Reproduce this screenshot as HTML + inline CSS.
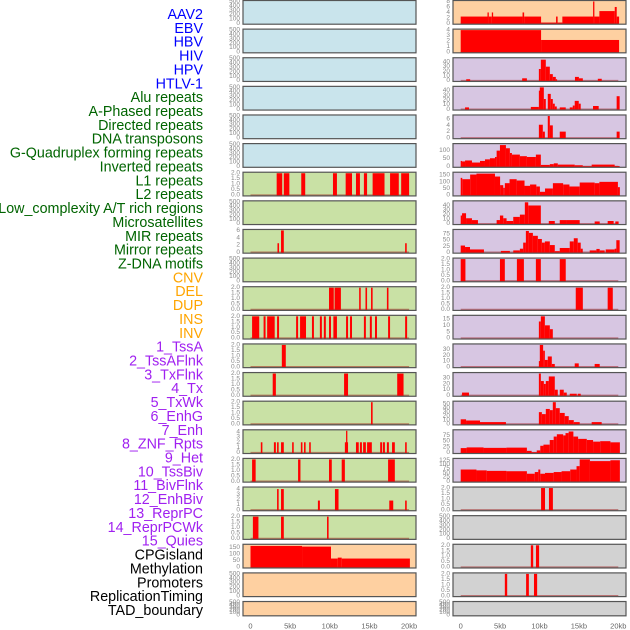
<!DOCTYPE html>
<html><head><meta charset="utf-8"><style>
html,body{margin:0;padding:0;background:#fff;width:630px;height:630px;overflow:hidden}
svg{display:block}
text{font-family:"Liberation Sans",sans-serif}
</style></head><body>
<svg id="chart" width="630" height="630" viewBox="0 0 630 630" xmlns="http://www.w3.org/2000/svg"></svg>
<script>
// ---- data (segments: [startKb, endKb, value]) ----
const trackLabels = ["AAV2","EBV","HBV","HIV","HPV","HTLV-1","Alu repeats","A-Phased repeats","Directed repeats","DNA transposons","G-Quadruplex forming repeats","Inverted repeats","L1 repeats","L2 repeats","Low_complexity A/T rich regions","Microsatellites","MIR repeats","Mirror repeats","Z-DNA motifs","CNV","DEL","DUP","INS","INV","1_TssA","2_TssAFlnk","3_TxFlnk","4_Tx","5_TxWk","6_EnhG","7_Enh","8_ZNF_Rpts","9_Het","10_TssBiv","11_BivFlnk","12_EnhBiv","13_ReprPC","14_ReprPCWk","15_Quies","CPGisland","Methylation","Promoters","ReplicationTiming","TAD_boundary"];
const labelGroups = [6,13,5,15,5];
const groupColors = ["#0000ff","#006400","#ffa500","#a020f0","#000000"];
const xTickKb = [0,5,10,15,20];
const xTickLabels = ["0","5kb","10kb","15kb","20kb"];
const ticksEmpty = ["0","100","200","300","400","500"];
const ticks2 = ["0.0","0.5","1.0","1.5","2.0"];
const ticks4 = ["0","1","2","3","4"];

const left6 = [[3.3,4.0,2],[4.2,4.9,2],[6.4,6.9,2],[10.4,10.9,2],[12.0,12.8,2],[13.3,13.8,2],[14.3,14.7,2],[15.4,16.9,2],[17.6,18.7,2],[19.0,20.0,2]];
const left8 = [[3.4,3.6,2.5],[3.85,4.2,6],[19.5,19.7,2.5]];
const left10 = [[9.9,10.5,2],[10.6,11.4,2],[13.7,13.9,2],[14.5,14.7,2],[15.2,15.4,2],[17.2,17.4,2]];
const left11 = [[0.2,1.1,2],[1.65,1.9,2],[2.1,3.05,2],[3.35,3.6,2],[5.75,6.0,2],[6.25,7.0,2],[7.75,8.0,2],[8.75,9.0,2],[9.25,9.5,2],[9.9,10.15,2],[10.45,10.9,2],[12.05,12.3,2],[12.55,12.8,2],[14.3,14.55,2],[15.05,15.3,2],[15.7,15.95,2],[17.35,17.6,2],[19.5,19.75,2]];
const left12 = [[3.95,4.45,2]];
const left13 = [[2.8,3.2,2],[11.8,12.3,2],[18.5,19.3,2]];
const left14 = [[15.2,15.4,2]];
const left15 = [[1.3,1.5,2],[2.95,3.2,2],[3.35,3.55,2],[3.85,4.2,2],[5.25,5.45,2],[6.35,6.55,2],[6.75,6.95,2],[7.4,7.6,2],[11.9,12.3,2],[12.05,12.2,4.2],[13.3,13.65,2],[13.8,14.05,2],[14.2,14.55,2],[14.7,15.3,2],[16.35,16.6,2],[16.7,16.95,2],[17.2,17.45,2],[17.85,18.2,2],[19.5,19.7,2]];
const left16 = [[0.2,0.65,2],[6.0,6.3,2],[9.9,10.25,2],[11.5,11.9,2],[17.35,18.2,2]];
const left17 = [[3.35,3.55,4],[3.85,4.2,4],[8.5,8.75,1.8],[10.65,11.1,4],[17.5,18.0,1.8],[19.5,19.7,1.8]];
const left18 = [[0.3,1.0,2],[3.85,4.2,2],[9.65,9.85,2]];
const left19 = [[0,6.5,160],[6.5,10.15,155],[10.15,11.0,65],[11.0,11.5,72],[11.5,20.1,65]];

const right0 = [[0,3.4,2.5],[3.4,3.55,4],[3.55,3.95,2.5],[3.95,4.1,4],[4.1,7.85,2.5],[7.85,8.05,4],[8.05,10.2,2.5],[10.2,12.1,0.3],[12.1,12.3,2.5],[12.3,12.9,0.3],[12.9,16.8,2.5],[16.8,16.95,8],[16.95,17.6,2.5],[17.6,19.55,4.5],[19.55,19.8,6],[19.8,20.1,2.5]];
const right1 = [[0,10.2,4],[10.2,20.1,2.2]];
const right2 = [[0.7,1.2,3],[7.8,8.4,5],[9.92,10.17,25],[10.17,10.8,45],[10.8,11.31,30],[11.31,11.69,14],[11.69,12.07,8],[12.07,12.2,3],[14.5,15.0,8],[15.0,15.5,5],[17.4,17.9,4]];
const right3 = [[0.55,1.05,4],[8.9,9.92,5],[9.92,10.04,40],[10.04,10.55,47],[10.55,10.8,22],[11.05,11.43,33],[11.43,11.69,22],[11.69,11.94,12],[11.94,12.19,6],[12.57,13.33,4],[13.84,14.22,4],[14.22,14.47,8],[14.47,14.98,18],[14.98,15.23,12],[16.79,17.51,7],[19.79,20.17,28]];
const right4 = [[9.92,10.42,4.2],[10.42,10.68,2],[11.05,11.31,7],[11.31,11.69,4],[12.57,13.33,2],[19.79,20.17,2]];
const right5 = [[0,0.17,35],[0.17,0.55,32],[0.55,1.43,38],[1.43,2.45,25],[2.45,3.08,35],[3.08,3.71,45],[3.71,4.35,52],[4.35,4.56,60],[4.56,4.98,100],[4.98,5.74,135],[5.74,6.24,115],[6.24,6.5,85],[6.5,7.51,75],[7.51,8.4,65],[8.4,9.54,60],[9.54,10.17,75],[10.17,11.31,10],[11.31,11.81,15],[11.81,12.32,20],[12.32,14.47,12],[14.47,15.49,8],[15.49,16.62,2],[16.62,19.54,12],[19.54,20.17,3]];
const right6 = [[0,0.2,130],[0.2,1.2,120],[1.2,2.0,155],[2.0,4.35,162],[4.35,5.0,140],[5.0,5.4,75],[5.4,5.6,55],[5.6,6.2,90],[6.2,7.1,120],[7.1,8.1,110],[8.1,8.8,70],[8.8,9.6,80],[9.6,10.05,65],[10.05,10.7,25],[10.7,11.7,50],[11.7,13.0,90],[13.0,13.8,80],[13.8,15.1,65],[15.1,17.0,95],[17.0,17.6,90],[17.6,19.95,100],[19.95,20.2,60]];
const right7 = [[0,0.17,18],[0.17,0.68,23],[0.68,1.43,12],[1.43,2.19,8],[4.56,4.98,8],[4.98,5.4,18],[5.4,5.82,12],[5.82,6.67,6],[6.67,7.51,15],[7.51,8.14,20],[8.14,8.57,47],[8.57,10.17,40],[11.18,11.94,6],[12.57,13.42,8],[13.42,15.1,8],[17.0,17.64,5],[18.65,19.41,6],[19.62,20.04,5]];
const right8 = [[0,0.55,28],[0.55,1.18,22],[1.18,2.95,12],[5.1,6.24,6],[6.67,7.51,8],[7.51,7.93,15],[7.93,8.27,40],[8.27,8.65,88],[8.65,9.16,80],[9.16,9.79,68],[9.79,10.3,55],[10.3,10.68,40],[10.68,11.31,45],[11.31,11.94,30],[11.94,12.57,5],[12.57,13.84,18],[13.84,14.35,45],[14.35,14.85,58],[14.85,15.23,40],[15.23,15.49,15],[16.37,17.22,8],[17.22,17.64,14],[17.64,18.27,8],[18.4,19.54,12],[19.54,19.75,15],[19.75,20.17,50]];
const right9 = [[0,0.6,2],[4.98,5.6,2],[7.13,8.02,2],[9.54,10.17,2],[12.57,13.33,2]];
const right10 = [[14.6,15.5,2],[18.65,19.3,2]];
const right11 = [[9.92,10.17,13],[10.17,10.68,17],[10.68,11.31,10],[11.31,11.69,7]];
const right12 = [[9.92,10.04,10],[10.04,10.46,38],[10.46,10.68,28],[10.68,11.05,12],[11.05,11.56,18],[11.56,11.94,5],[14.47,14.98,6],[17.0,17.64,5]];
const right13 = [[0.17,1.05,5],[9.92,10.17,38],[10.17,10.55,25],[10.55,10.8,20],[10.8,11.18,25],[11.18,11.94,33],[11.94,12.32,10],[12.57,13.08,10],[13.08,13.46,5],[13.84,14.73,3],[14.85,15.23,3]];
const right14 = [[0,0.68,12],[0.68,2.45,9],[2.45,5.74,5],[9.92,10.3,30],[10.3,10.8,25],[10.8,11.31,38],[11.31,11.69,35],[11.69,12.07,55],[12.07,12.57,40],[12.57,13.2,28],[13.2,13.71,20],[13.71,14.35,10],[14.35,15.1,5],[16.62,17.89,5]];
const right15 = [[0,0.75,20],[0.75,2.9,23],[2.9,5.8,21],[5.8,8.4,22],[8.4,9.0,8],[9.0,9.65,2],[9.65,10.1,10],[10.1,10.5,30],[10.5,11.3,35],[11.3,11.8,55],[11.8,12.2,70],[12.2,13.0,80],[13.0,13.3,75],[13.3,13.7,85],[13.7,14.3,92],[14.3,14.9,70],[14.9,16.0,60],[16.0,16.8,55],[16.8,17.7,48],[17.7,19.0,50],[19.0,20.2,45]];
const right16 = [[0,2.0,70],[2.0,3.3,65],[3.3,5.8,62],[5.8,8.4,60],[8.4,9.4,45],[9.4,9.85,55],[9.85,10.1,70],[10.1,10.7,45],[10.7,11.8,50],[11.8,12.8,55],[12.8,13.9,60],[13.9,14.7,70],[14.7,15.1,90],[15.1,16.4,130],[16.4,19.0,120],[19.0,20.2,125]];
const right17 = [[10.2,10.7,2],[11.2,11.7,2]];
const right19 = [[8.9,9.2,2],[9.55,9.95,2]];
const right20 = [[5.6,5.9,2],[8.3,8.65,2],[9.3,9.7,2]];

const BLUE="#c9e4ec", GREEN="#c9e1a5", ORANGE="#fed0a1", PURPLE="#d7c6e2", GRAY="#d2d2d2";
const E = null;
const panels = [];
for(let r=0;r<6;r++) panels.push([0,r,BLUE,500,ticksEmpty,E]);
panels.push([0,6,GREEN,2,ticks2,left6]);
panels.push([0,7,GREEN,500,ticksEmpty,E]);
panels.push([0,8,GREEN,6,["0","2","4","6"],left8]);
panels.push([0,9,GREEN,500,ticksEmpty,E]);
panels.push([0,10,GREEN,2,ticks2,left10]);
panels.push([0,11,GREEN,2,ticks2,left11]);
panels.push([0,12,GREEN,2,ticks2,left12]);
panels.push([0,13,GREEN,2,ticks2,left13]);
panels.push([0,14,GREEN,2,ticks2,left14]);
panels.push([0,15,GREEN,4.2,ticks4,left15]);
panels.push([0,16,GREEN,2,ticks2,left16]);
panels.push([0,17,GREEN,4.2,ticks4,left17]);
panels.push([0,18,GREEN,2,ticks2,left18]);
panels.push([0,19,ORANGE,165,["0","50","100","150"],left19]);
panels.push([0,20,ORANGE,500,ticksEmpty,E]);
panels.push([0,21,ORANGE,500,ticksEmpty,E]);
panels.push([1,0,ORANGE,8,["0","2","4","6","8"],right0]);
panels.push([1,1,ORANGE,4,ticks4,right1]);
panels.push([1,2,PURPLE,47,["0","10","20","30","40"],right2]);
panels.push([1,3,PURPLE,47,["0","10","20","30","40"],right3]);
panels.push([1,4,PURPLE,7,["0","2","4","6"],right4]);
panels.push([1,5,PURPLE,138,["0","50","100"],right5]);
panels.push([1,6,PURPLE,165,["0","50","100","150"],right6]);
panels.push([1,7,PURPLE,48,["0","10","20","30","40"],right7]);
panels.push([1,8,PURPLE,90,["0","25","50","75"],right8]);
panels.push([1,9,PURPLE,2,ticks2,right9]);
panels.push([1,10,PURPLE,2,ticks2,right10]);
panels.push([1,11,PURPLE,17,["0","5","10","15"],right11]);
panels.push([1,12,PURPLE,38,["0","10","20","30"],right12]);
panels.push([1,13,PURPLE,38,["0","10","20","30"],right13]);
panels.push([1,14,PURPLE,55,["0","10","20","30","40","50"],right14]);
panels.push([1,15,PURPLE,95,["0","25","50","75"],right15]);
panels.push([1,16,PURPLE,130,["0","25","50","75","100","125"],right16]);
panels.push([1,17,GRAY,2,ticks2,right17]);
panels.push([1,18,GRAY,500,ticksEmpty,E]);
panels.push([1,19,GRAY,2,ticks2,right19]);
panels.push([1,20,GRAY,2,ticks2,right20]);
panels.push([1,21,GRAY,500,ticksEmpty,E]);

const svg = document.getElementById('chart');
const NS = "http://www.w3.org/2000/svg";
function mk(tag, attrs, parent){const e=document.createElementNS(NS,tag);for(const k in attrs)e.setAttribute(k,attrs[k]);(parent||svg).appendChild(e);return e;}
const PX=[243,453], PW=173, X0=[250.5,460.7], KB=[7.93,7.88];
function xScale(col,kb){return X0[col]+kb*KB[col];}
function rowTop(r){return r*28.62;}
function rowH(r){return r===21?15.3:24.7;}
function yScale(T,h,max,v){return T+h-1.3-(v/max)*(h-2.8);}

let li=0;
labelGroups.forEach((n,g)=>{
  for(let k=0;k<n;k++){
    const t=mk('text',{x:203,y:15+li*13.86,'text-anchor':'end','dominant-baseline':'central','font-size':'14.3',fill:groupColors[g]});
    t.textContent=trackLabels[li];
    
    
    li++;
  }
});

panels.forEach(p=>{
  const [col,row,bg,ymax,ticks,data]=p;
  const T=rowTop(row), h=rowH(row), L=PX[col];
  const g=mk('g',{});
  
  
  mk('rect',{x:L,y:T+0.5,width:PW,height:h-1,fill:bg},g);
  ticks.forEach(tl=>{
    const v=parseFloat(tl);
    const t=mk('text',{x:L-3,y:yScale(T,h,ymax,v),'text-anchor':'end','dominant-baseline':'central','font-size':'6.5',fill:'#888'},g);
    t.textContent=tl;
    
    
  });
  if(data){
    const y0=yScale(T,h,ymax,0);
    const bl=mk('line',{x1:xScale(col,0),x2:xScale(col,20),y1:y0,y2:y0,stroke:'rgba(150,0,0,0.45)','stroke-width':1.6},g);
    
    
    data.forEach(s=>{
      const x1=xScale(col,s[0]), x2=xScale(col,s[1]);
      const yv=yScale(T,h,ymax,s[2]);
      const b=mk('rect',{x:x1,y:yv,width:Math.max(1.3,x2-x1),height:Math.max(0.5,y0-yv+0.8),fill:'#ff0000'},g);
      
      
    });
  }
  const br=mk('rect',{x:L,y:T+0.5,width:PW,height:h-1,fill:'none',stroke:'#555','stroke-width':1.2},g);
  
  
});

[0,1].forEach(col=>{
  xTickKb.forEach((kb,i)=>{
    const t=mk('text',{x:xScale(col,kb),y:626,'text-anchor':'middle','dominant-baseline':'central','font-size':'7.5',fill:'#666'});
    t.textContent=xTickLabels[i];
    
    
  });
});
</script>
</body></html>
